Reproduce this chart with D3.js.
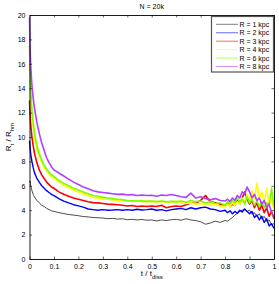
<!DOCTYPE html>
<html>
<head>
<meta charset="utf-8">
<script src="https://cdn.jsdelivr.net/npm/d3@7"></script>
<style>
  body { margin: 0; background: #fff; }
  svg { display: block; font-family: "Liberation Sans", Arial, sans-serif; }
</style>
</head>
<body>
<div id="chart"></div>
<script>
// time grid (t / t_diss), shared by all runs
const tGrid = [0, 0.002, 0.005, 0.01, 0.015, 0.02, 0.03, 0.04, 0.05, 0.06, 0.07, 0.08, 0.09,
  0.10, 0.12, 0.14, 0.16, 0.18, 0.20, 0.22, 0.24, 0.26, 0.28, 0.30, 0.32, 0.34, 0.36, 0.38,
  0.40, 0.42, 0.44, 0.46, 0.48, 0.50, 0.52, 0.54, 0.56, 0.58, 0.60, 0.62, 0.64, 0.66, 0.68,
  0.70, 0.72, 0.74, 0.76, 0.78, 0.80,
  0.81, 0.82, 0.83, 0.84, 0.85, 0.86, 0.87, 0.88, 0.89, 0.90, 0.91, 0.92, 0.93, 0.94, 0.95,
  0.96, 0.97, 0.98, 0.99, 1.00];

const r1 = [6.3, 6.4, 6.0, 5.6, 5.3, 5.1, 4.8, 4.6, 4.4, 4.3, 4.15, 4.05, 3.95,
  3.9, 3.8, 3.72, 3.65, 3.6, 3.55, 3.48, 3.45, 3.4, 3.38, 3.36, 3.3, 3.33, 3.27, 3.3,
  3.22, 3.25, 3.2, 3.24, 3.18, 3.2, 3.12, 3.2, 3.15, 3.22, 3.25, 3.18, 3.3, 3.2, 3.15,
  3.05, 2.85, 2.95, 3.1, 3.0, 3.15,
  3.1, 3.25, 3.4, 3.6, 3.75, 3.9, 4.0, 4.1, 3.9, 4.0, 3.7, 3.8, 3.5, 3.7, 3.3,
  3.5, 3.1, 3.2, 2.8, 2.9];

const r2 = [9.7, 9.2, 8.6, 8.0, 7.5, 7.1, 6.6, 6.3, 6.0, 5.8, 5.6, 5.45, 5.3,
  5.2, 4.95, 4.75, 4.6, 4.45, 4.35, 4.25, 4.1, 4.05, 4.0, 4.05, 4.0, 4.02, 4.05, 4.0,
  4.05, 4.0, 4.08, 4.02, 4.05, 4.1, 4.0, 4.05, 3.95, 4.05, 4.1, 4.15, 4.05, 4.2, 4.1,
  4.2, 4.25, 4.1, 4.05, 3.9, 4.0,
  3.8, 3.95, 3.7, 3.9, 3.75, 4.0, 3.85, 4.1, 3.9, 3.7, 3.9, 3.4, 3.6, 3.2, 3.5,
  3.0, 3.3, 2.7, 2.9, 2.5];

const r3 = [13.0, 12.0, 11.0, 10.0, 9.3, 8.7, 7.9, 7.3, 6.9, 6.6, 6.3, 6.1, 5.9,
  5.8, 5.5, 5.3, 5.15, 5.0, 4.9, 4.8, 4.7, 4.62, 4.6, 4.55, 4.5, 4.48, 4.45, 4.4,
  4.35, 4.38, 4.3, 4.35, 4.3, 4.35, 4.3, 4.4, 4.2, 4.3, 4.35, 4.3, 4.45, 4.6, 4.55,
  4.8, 5.2, 4.7, 4.6, 4.5, 4.4,
  4.6, 4.3, 4.5, 4.4, 4.8, 4.5, 5.0, 5.5, 4.9, 4.5, 4.8, 4.2, 4.6, 4.0, 4.4,
  3.8, 4.2, 3.5, 3.9, 3.3];

const r4 = [16.0, 14.5, 13.0, 11.7, 10.8, 10.0, 9.0, 8.4, 7.9, 7.5, 7.2, 6.95, 6.75,
  6.6, 6.3, 6.05, 5.85, 5.65, 5.5, 5.35, 5.2, 5.05, 5.0, 4.95, 4.9, 4.85, 4.8, 4.78,
  4.75, 4.72, 4.75, 4.7, 4.72, 4.7, 4.68, 4.72, 4.65, 4.7, 4.65, 4.6, 4.55, 4.6, 4.5,
  4.55, 4.45, 4.4, 4.5, 4.35, 4.3,
  4.5, 4.3, 4.6, 4.4, 4.7, 4.5, 5.0, 4.7, 5.3, 4.8, 5.6, 4.9, 6.2, 5.0, 5.5,
  4.6, 5.8, 4.4, 5.0, 3.9];

const r6 = [17.5, 15.5, 13.8, 12.2, 11.2, 10.4, 9.3, 8.6, 8.1, 7.7, 7.35, 7.1, 6.9,
  6.75, 6.45, 6.2, 6.0, 5.8, 5.65, 5.5, 5.35, 5.2, 5.15, 5.05, 5.0, 4.95, 4.9, 4.85,
  4.8, 4.78, 4.75, 4.78, 4.72, 4.75, 4.7, 4.75, 4.68, 4.72, 4.7, 4.75, 4.65, 4.8, 4.7,
  4.75, 4.6, 4.7, 4.55, 4.6, 4.4,
  4.7, 4.5, 4.8, 4.6, 5.0, 4.7, 4.9, 4.5, 5.1, 4.6, 4.9, 4.4, 4.8, 4.3, 4.7,
  4.2, 4.6, 4.4, 5.8, 4.3];

const r8 = [19.8, 17.5, 15.8, 14.2, 13.2, 12.4, 11.2, 10.3, 9.5, 8.9, 8.3, 7.9, 7.55,
  7.3, 7.05, 6.8, 6.55, 6.3, 6.1, 5.9, 5.75, 5.6, 5.5, 5.45, 5.4, 5.35, 5.3, 5.32,
  5.25, 5.28, 5.2, 5.25, 5.2, 5.22, 5.15, 5.25, 5.2, 5.28, 5.2, 5.1, 5.05, 5.4, 5.0,
  5.1, 4.95, 4.85, 4.95, 4.8, 4.75,
  4.9, 4.7, 5.0, 4.8, 5.2, 5.0, 5.5, 5.3, 5.9, 5.5, 5.0, 5.3, 4.8, 5.0, 4.5,
  4.8, 4.2, 4.5, 3.8, 3.5];

const runNames = ["R = 1 kpc", "R = 2 kpc", "R = 3 kpc", "R = 4 kpc", "R = 6 kpc", "R = 8 kpc"];
const runValues = [r1, r2, r3, r4, r6, r8];
const runColors = ["#000000", "#0000ff", "#ff0000", "#ffff00", "#7cfc00", "#b040ff"];

const xTicks = [0, 0.1, 0.2, 0.3, 0.4, 0.5, 0.6, 0.7, 0.8, 0.9, 1];
const yTicks = [0, 2, 4, 6, 8, 10, 12, 14, 16, 18, 20];

const width = 279, height = 284;
const margin = {top: 15, right: 5, bottom: 25, left: 29.5};

const svg = d3.select("#chart").append("svg")
  .attr("width", width)
  .attr("height", height);

const x = d3.scaleLinear().domain([0, 1]).range([margin.left, width - margin.right]);
const y = d3.scaleLinear().domain([0, 20]).range([height - margin.bottom, margin.top]);

// curves, drawn first so the box sits on top
const line = d3.line()
  .x((d, i) => x(tGrid[i]))
  .y(d => y(d));

svg.append("g")
  .selectAll("path")
  .data(runValues)
  .join("path")
  .attr("fill", "none")
  .attr("stroke", (d, i) => runColors[i])
  .attr("stroke-width", (d, i) => i == 0 ? 0.7 : (i == 1 ? 1.4 : 1.6))
  .attr("stroke-linejoin", "round")
  .attr("d", line);

// axes, ticks pointing inward like matlab
const fmt = d => d == 0 ? "0" : d3.format("~g")(d);
const tickLen = 2.5;

svg.append("g")
  .attr("transform", `translate(0,${y(0)})`)
  .call(d3.axisBottom(x).tickValues(xTicks).tickSizeInner(-tickLen).tickSizeOuter(0).tickPadding(5).tickFormat(fmt));
svg.append("g")
  .attr("transform", `translate(0,${y(20)})`)
  .call(d3.axisTop(x).tickValues(xTicks).tickSizeInner(-tickLen).tickSizeOuter(0).tickFormat(""));
svg.append("g")
  .attr("transform", `translate(${x(0)},0)`)
  .call(d3.axisLeft(y).tickValues(yTicks).tickSizeInner(-tickLen).tickSizeOuter(0).tickPadding(4).tickFormat(fmt));
svg.append("g")
  .attr("transform", `translate(${x(1)},0)`)
  .call(d3.axisRight(y).tickValues(yTicks).tickSizeInner(-tickLen).tickSizeOuter(0).tickFormat(""));

svg.selectAll(".domain").attr("stroke", "#000").attr("stroke-width", 0.9);
svg.selectAll(".tick line").attr("stroke", "#000").attr("stroke-width", 0.6);
svg.selectAll(".tick text").attr("font-size", 7).attr("fill", "#000")
  .attr("font-family", "Liberation Sans, Arial, sans-serif");

// title
svg.append("text")
  .attr("x", (x(0) + x(1)) / 2)
  .attr("y", 9)
  .attr("text-anchor", "middle")
  .attr("font-size", 7)
  .text("N = 20k");

// x label
const xl = svg.append("text")
  .attr("x", (x(0) + x(1)) / 2)
  .attr("y", 276)
  .attr("text-anchor", "middle")
  .attr("font-size", 8);
xl.append("tspan").text("t / t");
xl.append("tspan").attr("font-size", 6).attr("dy", 3).text("diss");

// y label
const yl = svg.append("text")
  .attr("transform", `translate(11,${(y(0) + y(20)) / 2}) rotate(-90)`)
  .attr("text-anchor", "middle")
  .attr("font-size", 8);
yl.append("tspan").text("R");
yl.append("tspan").attr("font-size", 6).attr("dy", 3).text("t");
yl.append("tspan").attr("dy", -3).text(" / R");
yl.append("tspan").attr("font-size", 6).attr("dy", 3).text("hm");

// legend
const lg = svg.append("g");
lg.append("rect")
  .attr("x", 211.5).attr("y", 16.5)
  .attr("width", 62).attr("height", 55.5)
  .attr("fill", "#fff")
  .attr("stroke", "#555")
  .attr("stroke-width", 1.2);

const rows = lg.selectAll(".row")
  .data(runNames)
  .join("g")
  .attr("transform", (d, i) => `translate(0,${24.3 + i * 8.45})`);

rows.append("line")
  .attr("x1", 216).attr("x2", 238)
  .attr("stroke", (d, i) => runColors[i])
  .attr("stroke-opacity", (d, i) => i == 0 ? 0.5 : 0.6)
  .attr("stroke-width", 1);

rows.append("text")
  .attr("x", 239.5)
  .attr("y", 2.5)
  .attr("font-size", 7)
  .text(d => d);
</script>
</body>
</html>
